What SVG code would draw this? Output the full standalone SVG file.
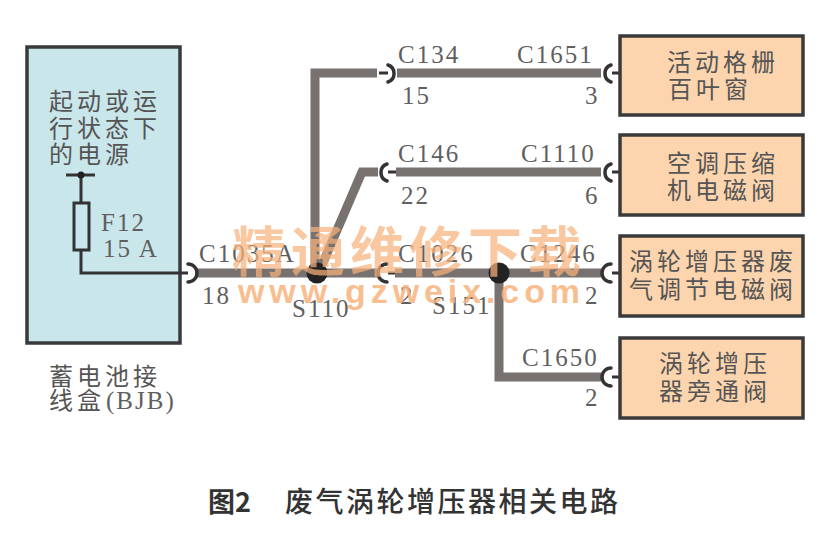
<svg xmlns="http://www.w3.org/2000/svg" width="825" height="533" viewBox="0 0 825 533">
<defs><style>
.box{stroke:#3a3a3a;stroke-width:3.5}
.comp{fill:#fcd5ae}
.wire{fill:none;stroke:#77716f;stroke-width:9;stroke-linejoin:miter}
.thin{fill:none;stroke:#333;stroke-width:3}
.arc{fill:none;stroke:#333;stroke-width:3.5;stroke-linecap:round}
.lat{font-family:"Liberation Serif",serif;font-size:25px;fill:#5f5f5f;letter-spacing:2px}
.cjk{font-family:"Noto Sans CJK SC",sans-serif;font-size:24px;fill:#555;letter-spacing:4px}
.c{text-anchor:middle}
.wm{font-family:"Noto Sans CJK SC",sans-serif;font-weight:700;font-size:54px;fill:#f7b27c;fill-opacity:.72;letter-spacing:5px}
.wm2{font-family:"Liberation Sans",sans-serif;font-weight:700;font-size:34px;fill:#f7b27c;fill-opacity:.85;letter-spacing:4.9px}
</style></defs>
<rect width="825" height="533" fill="#fff"/>
<g id="bjb"><rect class="box" x="27" y="47" width="153" height="296" fill="#c9e6ea"/>
<text class="cjk" x="49" y="110">起动或运</text><text class="cjk" x="49" y="137">行状态下</text><text class="cjk" x="49" y="163">的电源</text>
<text class="lat" x="101" y="231">F12</text><text class="lat" x="103" y="257">15 A</text>
<text class="cjk" x="49" y="385">蓄电池接</text><text class="cjk" x="49" y="409">线盒</text><text class="lat" x="106" y="409">(BJB)</text></g>
<g id="connectors">
<path class="wire" d="M195 273H377M395 273H601"/>
<path class="wire" d="M377 73H315V273"/>
<path class="wire" d="M378 172H362L322 265"/>
<path class="wire" d="M397 73H601M396 172H601"/>
<path class="wire" d="M499 273V377H601"/>
<path class="thin" d="M66 175H95M81 175V273H188"/>
<path class="thin" d="M379 73H388M388 172H396M388 273H395M612 73H619M612 172H619M612 273H619M612 377H619"/>
<circle cx="81" cy="175" r="3.5" fill="#222"/>
<rect x="74" y="203" width="15" height="47" fill="#c9e6ea" stroke="#333" stroke-width="3"/>
<path class="arc" d="M188 264A9 9 0 0 1 188 282M388 65A9 9 0 0 1 388 82M387 164A9 9 0 0 0 387 181M387 264A9 9 0 0 0 387 282M611 65A9 9 0 0 0 611 82M611 164A9 9 0 0 0 611 181M611 264A9 9 0 0 0 611 282M611 368A9 9 0 0 0 611 386"/>
<circle cx="317" cy="273" r="10.5" fill="#222"/><circle cx="499" cy="273" r="10.5" fill="#222"/>
</g>
<g id="wirelabels">
<text class="lat" x="398" y="63">C134</text><text class="lat" x="517" y="63">C1651</text><text class="lat" x="402" y="104">15</text><text class="lat" x="585" y="104">3</text>
<text class="lat" x="398" y="162">C146</text><text class="lat" x="521" y="162">C1110</text><text class="lat" x="401" y="204">22</text><text class="lat" x="585" y="204">6</text>
<text class="lat" x="199" y="262">C1035A</text><text class="lat" x="398" y="262">C1026</text><text class="lat" x="520" y="262">C1246</text>
<text class="lat" x="202" y="304">18</text><text class="lat" x="400" y="304">2</text><text class="lat" x="585" y="304">2</text>
<text class="lat" x="292" y="317">S110</text><text class="lat" x="432" y="314">S151</text>
<text class="lat" x="522" y="366">C1650</text><text class="lat" x="585" y="406">2</text></g>
<g id="n1"><rect class="box comp" x="620" y="36" width="183" height="79"/><text class="cjk c" x="723" y="71">活动格栅</text><text class="cjk c" x="710" y="98">百叶窗</text></g>
<g id="n2"><rect class="box comp" x="620" y="135" width="183" height="80"/><text class="cjk c" x="723" y="172">空调压缩</text><text class="cjk c" x="723" y="199">机电磁阀</text></g>
<g id="n3"><rect class="box comp" x="620" y="236" width="183" height="80"/><text class="cjk c" x="713" y="270">涡轮增压器废</text><text class="cjk c" x="713" y="298">气调节电磁阀</text></g>
<g id="n4"><rect class="box comp" x="620" y="338" width="183" height="80"/><text class="cjk c" x="715" y="372">涡轮增压</text><text class="cjk c" x="715" y="400">器旁通阀</text></g>
<g id="watermark"><text class="wm" x="232" y="272">精通维修下载</text><text class="wm2" x="238" y="303">www.gzweix.com</text></g>
<text x="208" y="512" font-family="Noto Sans CJK SC,sans-serif" font-weight="700" font-size="27" fill="#333">图2</text>
<text x="285" y="512" font-family="Noto Sans CJK SC,sans-serif" font-weight="500" font-size="28" fill="#333" letter-spacing="2.5">废气涡轮增压器相关电路</text>
</svg>
